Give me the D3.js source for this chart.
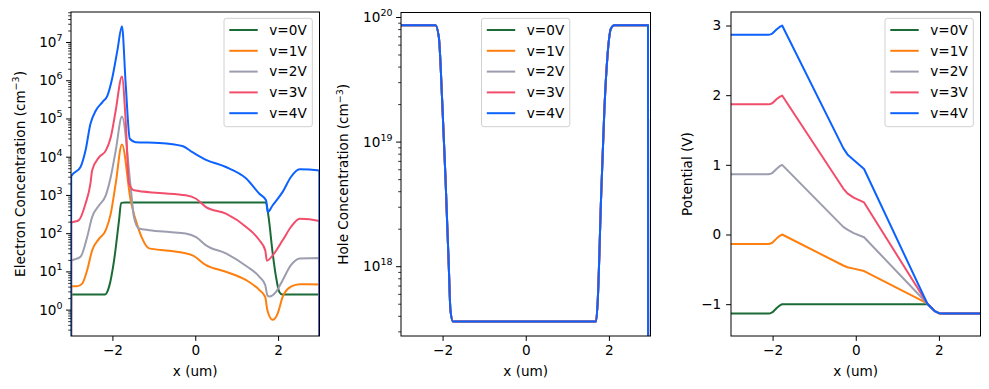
<!DOCTYPE html>
<html>
<head>
<meta charset="utf-8">
<script src="https://cdn.jsdelivr.net/npm/d3@7"></script>
<style>
  body { margin: 0; background: #fff; }
  text { font-family: "DejaVu Sans", sans-serif; }
</style>
</head>
<body>
<div id="chart"></div>
<script>
// series labels and colours
var seriesNames = ["v=0V", "v=1V", "v=2V", "v=3V", "v=4V"];
var seriesColors = ["#1b6b37", "#ff7f0e", "#9c9dae", "#f24e6c", "#0b62ff"];

// electron concentration (cm^-3) vs x (um)
var electronV0 = [[-3, 1e-3], [-2.995, 2.5], [-2.18, 2.5], [-2.08, 4.0], [-1.96, 19.5], [-1.84, 219], [-1.79, 620],
  [-1.7, 630], [1.71, 630], [1.77, 265], [1.87, 29.5], [1.95, 7.2], [2.03, 2.9], [2.1, 2.5], [2.995, 2.5], [3, 1e-3]];
var electronV1 = [[-3, 1e-3], [-2.995, 4.1], [-2.85, 4.1], [-2.73, 4.8], [-2.61, 10.7], [-2.49, 35.5], [-2.32, 72],
  [-2.16, 120], [-2.04, 324], [-1.92, 2000], [-1.77, 20900], [-1.56, 724], [-1.36, 120], [-1.11, 40], [-0.63, 34.7],
  [-0.065, 26.3], [0.26, 14.5], [0.74, 9.8], [1.23, 5.9], [1.55, 3.24], [1.69, 2.14], [1.74, 0.98], [1.87, 0.54],
  [1.99, 0.79], [2.11, 2.14], [2.31, 3.98], [2.52, 4.6], [2.995, 4.57], [3, 1e-3]];
var electronV2 = [[-3, 1e-3], [-2.995, 18.6], [-2.77, 24], [-2.61, 79], [-2.49, 263], [-2.32, 537], [-2.16, 977],
  [-2.04, 2950], [-1.92, 14500], [-1.77, 112000], [-1.56, 1620], [-1.48, 263], [-1.36, 132], [-1.11, 120],
  [-0.63, 107], [-0.23, 98], [0.02, 79], [0.26, 48], [0.74, 29.5], [1.23, 13.8], [1.55, 7.2], [1.69, 4.37],
  [1.74, 2.4], [1.79, 2.2], [1.95, 2.9], [2.11, 5.9], [2.31, 14.5], [2.52, 21.9], [2.995, 22.4], [3, 1e-3]];
var electronV3 = [[-3, 1e-3], [-2.995, 186], [-2.81, 219], [-2.65, 589], [-2.53, 1995], [-2.49, 4365], [-2.32, 9770],
  [-2.16, 14450], [-2.04, 32400], [-1.92, 162000], [-1.77, 1260000], [-1.68, 89000], [-1.6, 1995], [-1.48, 1318],
  [-0.87, 1122], [-0.23, 977], [0.02, 794], [0.26, 479], [0.74, 324], [1.23, 145], [1.55, 65], [1.69, 35.5],
  [1.73, 19], [1.87, 26.3], [2.11, 65], [2.31, 145], [2.52, 240], [2.995, 209], [3, 1e-3]];
var electronV4 = [[-3, 1e-3], [-2.995, 3090], [-2.77, 5370], [-2.65, 14450], [-2.53, 72400], [-2.4, 162000],
  [-2.24, 269000], [-2.12, 398000], [-2.0, 1200000], [-1.88, 6030000], [-1.77, 26000000], [-1.68, 813000],
  [-1.58, 29500], [-1.44, 24000], [-0.87, 22900], [-0.31, 19000], [-0.07, 13200], [0.26, 8300], [0.74, 5370],
  [1.23, 2690], [1.55, 1070], [1.71, 724], [1.75, 355], [1.87, 537], [2.11, 1200], [2.31, 2950], [2.52, 4680],
  [2.995, 4365], [3, 1e-3]];

// hole concentration (cm^-3) vs x (um): the five biases lie on top of each other
var holeProfile = [[-3, 8.6e19], [-2.17, 8.6e19], [-2.09, 6.9e19], [-2.01, 2.14e19], [-1.93, 5.1e18], [-1.85, 9.8e17],
  [-1.81, 4.4e17], [-1.75, 3.6e17], [1.69, 3.6e17], [1.73, 5.2e17], [1.81, 3.4e18], [1.89, 1.78e19], [1.97, 5.1e19],
  [2.05, 8.1e19], [2.13, 8.6e19], [2.94, 8.6e19], [2.95, 1e10]];

// electrostatic potential (V) vs x (um)
var potentialV0 = [[-3, -1.135], [-2.1, -1.135], [-2.05, -1.13], [-2.0, -1.115], [-1.9, -1.055], [-1.83, -1.02],
  [-1.77, -1.0], [1.72, -1.0], [1.8, -1.04], [1.9, -1.1], [2.0, -1.13], [2.1, -1.135], [3, -1.135]];
var potentialV1 = [[-3, -0.135], [-2.1, -0.135], [-2.05, -0.13], [-2.0, -0.115], [-1.9, -0.055], [-1.83, -0.02],
  [-1.77, 0.0], [-0.3, -0.445], [-0.2, -0.47], [-0.05, -0.49], [0.2, -0.525], [1.72, -0.99], [1.8, -1.04],
  [1.9, -1.1], [2.0, -1.13], [2.1, -1.135], [3, -1.135]];
var potentialV2 = [[-3, 0.866], [-2.1, 0.866], [-2.05, 0.871], [-2.0, 0.886], [-1.9, 0.945], [-1.83, 0.98],
  [-1.77, 1.0], [-0.3, 0.11], [-0.2, 0.07], [-0.05, 0.02], [0.2, -0.04], [1.72, -0.99], [1.8, -1.04], [1.9, -1.1],
  [2.0, -1.13], [2.1, -1.135], [3, -1.135]];
var potentialV3 = [[-3, 1.868], [-2.1, 1.868], [-2.05, 1.873], [-2.0, 1.888], [-1.9, 1.945], [-1.83, 1.975],
  [-1.77, 1.995], [-0.3, 0.66], [-0.2, 0.59], [-0.05, 0.53], [0.2, 0.46], [1.72, -0.99], [1.8, -1.04], [1.9, -1.1],
  [2.0, -1.13], [2.1, -1.135], [3, -1.135]];
var potentialV4 = [[-3, 2.868], [-2.1, 2.868], [-2.05, 2.873], [-2.0, 2.888], [-1.9, 2.945], [-1.83, 2.98],
  [-1.77, 3.0], [-0.3, 1.24], [-0.2, 1.15], [-0.05, 1.07], [0.2, 0.94], [1.72, -0.99], [1.8, -1.04], [1.9, -1.1],
  [2.0, -1.13], [2.1, -1.135], [3, -1.135]];

// tick values
var xTicks = [-2, 0, 2];
var electronTicks = [0, 1, 2, 3, 4, 5, 6, 7];   // exponents
var holeTicks = [18, 19, 20];
var potentialTicks = [-1, 0, 1, 2, 3];

var width = 989, height = 389;
var fontSize = 13.6;
var intFormat = d3.format("d");

var svg = d3.select("#chart")
    .append("svg")
    .attr("width", width)
    .attr("height", height);

var panels = [
    {
        box: {left: 71, right: 319.5, top: 12, bottom: 336},
        log: true, yDomain: [Math.pow(10, -0.69), Math.pow(10, 7.785)],
        majors: electronTicks, curve: d3.curveMonotoneX,
        series: [electronV0, electronV1, electronV2, electronV3, electronV4],
        ylabel: "Electron Concentration (cm", ylabelX: 24.5,
        legendX: 224
    },
    {
        box: {left: 401, right: 650.5, top: 12.5, bottom: 336},
        log: true, yDomain: [Math.pow(10, 17.44), Math.pow(10, 20.036)],
        majors: holeTicks, curve: d3.curveMonotoneX,
        series: [holeProfile, holeProfile, holeProfile, holeProfile, holeProfile],
        ylabel: "Hole Concentration (cm", ylabelX: 348,
        legendX: 481.5
    },
    {
        box: {left: 731, right: 980.5, top: 12, bottom: 336},
        log: false, yDomain: [-1.457, 3.194],
        majors: potentialTicks, curve: d3.curveLinear,
        series: [potentialV0, potentialV1, potentialV2, potentialV3, potentialV4],
        ylabel: "Potential (V)", ylabelX: 692,
        legendX: 885
    }
];

panels.forEach(function (p, pi) {
    var b = p.box;
    var x = d3.scaleLinear().domain([-3, 3]).range([b.left, b.right]);
    var y = p.log
        ? d3.scaleLog().domain(p.yDomain).range([b.bottom, b.top])
        : d3.scaleLinear().domain(p.yDomain).range([b.bottom, b.top]);

    svg.append("clipPath")
        .attr("id", "clip" + pi)
        .append("rect")
        .attr("x", b.left).attr("y", b.top)
        .attr("width", b.right - b.left).attr("height", b.bottom - b.top);

    var line = d3.line()
        .x(function (d) { return x(d[0]); })
        .y(function (d) { return y(d[1]); })
        .curve(p.curve);

    var g = svg.append("g").attr("clip-path", "url(#clip" + pi + ")");
    p.series.forEach(function (pts, i) {
        g.append("path")
            .datum(pts)
            .attr("d", line)
            .attr("fill", "none")
            .attr("stroke", seriesColors[i])
            .attr("stroke-width", 2)
            .attr("stroke-linejoin", "round");
    });

    // x axis
    var xAxis = svg.append("g")
        .attr("transform", "translate(0," + b.bottom + ")")
        .call(d3.axisBottom(x).tickValues(xTicks).tickFormat(intFormat)
            .tickSize(4.9).tickPadding(4.2).tickSizeOuter(0));
    xAxis.select(".domain").remove();
    xAxis.selectAll("text").attr("font-size", fontSize).attr("font-family", "DejaVu Sans").attr("fill", "#000");
    xAxis.selectAll("line").attr("stroke", "#000").attr("stroke-width", 1);

    svg.append("text")
        .attr("x", (b.left + b.right) / 2)
        .attr("y", 376)
        .attr("text-anchor", "middle")
        .attr("font-size", fontSize)
        .text("x (um)");

    // y axis
    if (p.log) {
        var minors = [];
        var lo = Math.floor(Math.log10(p.yDomain[0])), hi = Math.ceil(Math.log10(p.yDomain[1]));
        for (var e = lo; e <= hi; e++) {
            for (var m = 2; m < 10; m++) {
                var v = m * Math.pow(10, e);
                if (v >= p.yDomain[0] && v <= p.yDomain[1]) minors.push(v);
            }
        }
        var minorAxis = svg.append("g")
            .attr("transform", "translate(" + b.left + ",0)")
            .call(d3.axisLeft(y).tickValues(minors).tickSize(2.8).tickFormat("").tickSizeOuter(0));
        minorAxis.select(".domain").remove();
        minorAxis.selectAll("line").attr("stroke", "#000").attr("stroke-width", 0.8);

        var majorAxis = svg.append("g")
            .attr("transform", "translate(" + b.left + ",0)")
            .call(d3.axisLeft(y).tickValues(p.majors.map(function (k) { return Math.pow(10, k); }))
                .tickSize(4.9).tickFormat("").tickSizeOuter(0));
        majorAxis.select(".domain").remove();
        majorAxis.selectAll("line").attr("stroke", "#000").attr("stroke-width", 1);

        p.majors.forEach(function (k) {
            var t = svg.append("text")
                .attr("x", b.left - 8.5)
                .attr("y", y(Math.pow(10, k)) + 5)
                .attr("text-anchor", "end")
                .attr("font-size", fontSize);
            t.append("tspan").text("10");
            t.append("tspan").attr("dy", -6).attr("font-size", 9.5).text(k);
        });
    } else {
        var yAxis = svg.append("g")
            .attr("transform", "translate(" + b.left + ",0)")
            .call(d3.axisLeft(y).tickValues(p.majors).tickFormat(intFormat)
                .tickSize(4.9).tickPadding(4.9).tickSizeOuter(0));
        yAxis.select(".domain").remove();
        yAxis.selectAll("text").attr("font-size", fontSize).attr("font-family", "DejaVu Sans").attr("fill", "#000");
        yAxis.selectAll("line").attr("stroke", "#000").attr("stroke-width", 1);
    }

    // y label
    var yl = svg.append("text")
        .attr("transform", "translate(" + p.ylabelX + "," + ((b.top + b.bottom) / 2) + ") rotate(-90)")
        .attr("text-anchor", "middle")
        .attr("font-size", fontSize);
    yl.append("tspan").text(p.ylabel);
    if (p.log) {
        yl.append("tspan").attr("dy", -5.5).attr("font-size", 9.5).text("\u22123");
        yl.append("tspan").attr("dy", 5.5).text(")");
    }

    // frame
    svg.append("rect")
        .attr("x", b.left).attr("y", b.top)
        .attr("width", b.right - b.left).attr("height", b.bottom - b.top)
        .attr("fill", "none")
        .attr("stroke", "#000")
        .attr("stroke-width", 1);

    // legend
    var lg = svg.append("g").attr("transform", "translate(" + p.legendX + ",18.3)");
    lg.append("rect")
        .attr("width", 88.3).attr("height", 108.4)
        .attr("rx", 2.5)
        .attr("fill", "#fff").attr("fill-opacity", 0.8)
        .attr("stroke", "#d0d0d0").attr("stroke-width", 1);
    seriesNames.forEach(function (name, i) {
        var ry = 11.7 + i * 20.8;
        lg.append("line")
            .attr("x1", 5.3).attr("x2", 33.7)
            .attr("y1", ry).attr("y2", ry)
            .attr("stroke", seriesColors[i]).attr("stroke-width", 2);
        lg.append("text")
            .attr("x", 45.3).attr("y", ry + 4.8)
            .attr("font-size", fontSize)
            .text(name);
    });
});
</script>
</body>
</html>
